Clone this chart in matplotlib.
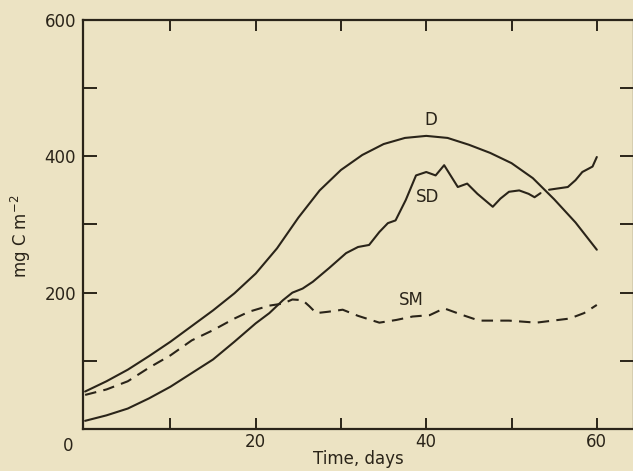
import numpy as np
import matplotlib
matplotlib.use("Agg")
import matplotlib.pyplot as plt

# Data
d_x = [0, 2.5, 5, 7.5, 10, 12.5, 15, 17.5, 20, 22.5, 25, 27.5, 30, 32.5, 35, 37.5, 40,
       42.5, 45, 47.5, 50, 52.5, 55, 57.5, 60]
d_y = [55, 70, 87, 107, 128, 151, 174, 199, 228, 265, 310, 350, 380, 402, 418, 427, 430,
       427, 417, 405, 390, 368, 337, 303, 263]

sd_x = [0, 2.5, 5, 7.5, 10, 12.5, 15, 17.5, 20, 21.6, 23.2, 24.3, 25.5, 26.7, 28.6, 30.6,
        32, 33.3, 34.5, 35.5, 36.4, 37.6, 38.8, 40, 41.1, 42.1, 43.3, 43.7, 44.8, 46,
        47.8, 48.7, 49.7, 50.9, 52.0, 52.7, 53.4, np.nan, 54.4, 55.5, 56.6, 57.5, 58.3,
        59.5, 60]
sd_y = [12, 20, 30, 45, 62, 82, 102, 128, 155, 170, 189, 200, 206, 216, 236, 258,
        267, 270, 289, 302, 306, 336, 372, 377, 372, 387, 363, 355, 360, 345,
        326, 338, 348, 350, 345, 340, 346, np.nan, 351, 353, 355, 365, 377,
        385, 399]

sm_x = [0, 2.5, 5, 7.5, 10, 12.5, 15, 17.5, 19.2, 21.6, 23.2, 24.3, 25.5, 26.3, 27.1,
        28.5, 30.2, 32, 34.5, 36.5, 38.4, 40.4, 42.1, 44.3, 46.2, 49.7, 52.9, 56.8,
        58.5, 60]
sm_y = [50, 58, 70, 90, 108, 130, 145, 162, 172, 181, 184, 190, 189, 180, 170,
        172, 175, 166, 156, 160, 165, 167, 177, 167, 159, 159, 156, 162,
        170, 182]

x_ticklabels = ["20", "40", "60"]
x_ticks = [20, 40, 60]
y_ticks = [200, 400, 600]
y_ticklabels = ["200", "400", "600"]

bg = "#ECE3C3"
ink = "#2a2419"

fig = plt.figure(figsize=(6.33, 4.71), dpi=100, facecolor=bg)
W, H = 633, 471
left, right, top, bottom = 83, 634, 20, 429
ax = fig.add_axes([left / W, (H - bottom) / H, (right - left) / W, (bottom - top) / H])
ax.set_facecolor(bg)

ax.plot(d_x, d_y, color=ink, lw=1.5, solid_capstyle="round")
ax.plot(sd_x, sd_y, color=ink, lw=1.5, solid_capstyle="round")
ax.plot(sm_x, sm_y, color=ink, lw=1.5, dashes=(5.5, 3.5))

ax.set_xlim(-0.25, (right - 85) / 8.53)
ax.set_ylim(0, 600)

for s in ax.spines.values():
    s.set_color(ink)
    s.set_linewidth(1.6)

ax.set_xticks(x_ticks)
ax.set_xticklabels(x_ticklabels)
ax.set_xticks([10, 30, 50], minor=True)
ax.set_yticks(y_ticks)
ax.set_yticklabels(y_ticklabels)
ax.set_yticks([100, 300, 500], minor=True)

ax.tick_params(axis="x", which="both", direction="in", length=8, width=1.4,
               top=True, bottom=True, color=ink, labelsize=12, labelcolor=ink, pad=3)
ax.tick_params(axis="y", which="both", direction="in", length=10, width=1.4,
               left=True, right=True, color=ink, labelsize=12, labelcolor=ink, pad=5)

ax.text(-0.018, -0.02, "0", transform=ax.transAxes, ha="right", va="top",
        fontsize=12, color=ink)

ax.set_xlabel("Time, days", fontsize=12, color=ink, labelpad=-1)
ax.set_ylabel("mg C m$^{-2}$", fontsize=12, color=ink)
ax.yaxis.set_label_coords(-0.09, 0.47)

ax.text(40.5, 453, "D", ha="center", va="center", fontsize=12, color=ink)
ax.text(40.2, 341, "SD", ha="center", va="center", fontsize=12, color=ink)
ax.text(38.3, 189, "SM", ha="center", va="center", fontsize=12, color=ink)

fig.savefig("out.png", dpi=100, facecolor=bg)
